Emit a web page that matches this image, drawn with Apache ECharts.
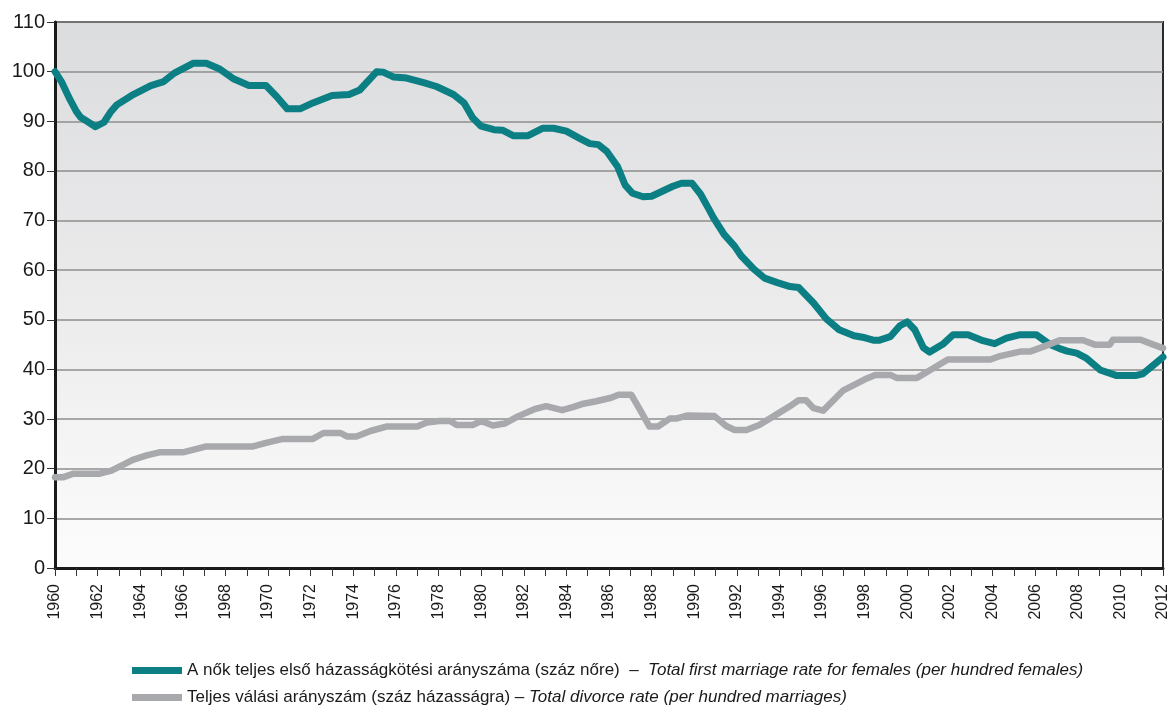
<!DOCTYPE html>
<html>
<head>
<meta charset="utf-8">
<script src="https://cdn.jsdelivr.net/npm/echarts@6/dist/echarts.min.js"></script>
<style>
    html, body { margin: 0; padding: 0; background: #ffffff; }
    #chart { width: 1175px; height: 706px; }
</style>
</head>
<body>
<div id="chart"></div>
<script>
// Total first marriage rate for females (per hundred females)
const marriageYears = [
    1960.0, 1960.3, 1960.7, 1961.0, 1961.2, 1961.5, 1961.9, 1962.3, 1962.6, 1962.9,
    1963.6, 1964.5, 1965.1, 1965.6, 1966.5, 1967.1, 1967.7, 1968.4, 1969.1, 1969.9,
    1970.4, 1970.9, 1971.5, 1972.1, 1973.0, 1973.8, 1974.3, 1975.1, 1975.4, 1975.9,
    1976.5, 1977.3, 1977.9, 1978.7, 1979.2, 1979.6, 1980.0, 1980.6, 1981.0, 1981.5,
    1982.2, 1982.9, 1983.4, 1984.0, 1984.6, 1985.1, 1985.5, 1985.9, 1986.4, 1986.75,
    1987.1, 1987.6, 1988.0, 1988.4, 1989.0, 1989.4, 1989.9, 1990.3, 1990.7, 1990.9,
    1991.4, 1991.9, 1992.2, 1992.8, 1993.3, 1993.9, 1994.5, 1994.9, 1995.6, 1996.2,
    1996.8, 1997.5, 1997.9, 1998.4, 1998.7, 1999.2, 1999.65, 2000.0, 2000.35, 2000.75,
    2001.05, 2001.7, 2002.15, 2002.85, 2003.55, 2004.1, 2004.65, 2005.3, 2006.05, 2006.7,
    2007.15, 2007.5, 2007.95, 2008.4, 2009.05, 2009.8, 2010.75, 2011.05, 2011.7, 2012.0
];
const marriageValues = [
    100.0, 98.0, 94.4, 92.0, 90.8, 90.0, 88.9, 89.8, 91.8, 93.3,
    95.2, 97.2, 98.0, 99.7, 101.7, 101.7, 100.6, 98.5, 97.2, 97.2,
    95.0, 92.5, 92.5, 93.7, 95.2, 95.4, 96.3, 100.0, 99.9, 98.9,
    98.7, 97.8, 97.0, 95.4, 93.7, 90.7, 89.0, 88.3, 88.2, 87.1,
    87.1, 88.6, 88.6, 88.0, 86.6, 85.5, 85.3, 83.9, 80.9, 77.2,
    75.5, 74.8, 74.9, 75.7, 76.9, 77.5, 77.5, 75.3, 72.2, 70.6,
    67.2, 64.8, 62.9, 60.2, 58.4, 57.5, 56.7, 56.5, 53.4, 50.2,
    48.0, 46.8, 46.5, 45.9, 45.9, 46.6, 48.8, 49.6, 48.0, 44.4,
    43.5, 45.2, 47.0, 47.0, 45.8, 45.2, 46.3, 47.0, 47.0, 45.0,
    44.2, 43.7, 43.3, 42.3, 39.9, 38.8, 38.8, 39.1, 41.4, 42.5
];

// Total divorce rate (per hundred marriages)
const divorceYears = [
    1960.0, 1960.4, 1960.85, 1962.1, 1962.65, 1963.65, 1964.3, 1964.9, 1966.0, 1966.65,
    1967.1, 1969.3, 1969.9, 1970.7, 1972.1, 1972.6, 1973.4, 1973.7, 1974.15, 1974.8,
    1975.55, 1977.0, 1977.45, 1978.05, 1978.55, 1978.85, 1979.6, 1980.0, 1980.55, 1981.1,
    1981.75, 1982.5, 1983.05, 1983.8, 1984.3, 1984.8, 1985.4, 1986.1, 1986.45, 1987.05,
    1987.45, 1987.9, 1988.3, 1988.85, 1989.15, 1989.65, 1990.95, 1991.5, 1991.9, 1992.45,
    1993.05, 1994.0, 1994.6, 1994.9, 1995.25, 1995.6, 1996.05, 1997.0, 1998.1, 1998.5,
    1999.2, 1999.5, 2000.45, 2001.2, 2001.9, 2003.9, 2004.35, 2005.3, 2005.75, 2006.4,
    2007.15, 2008.25, 2008.8, 2009.5, 2009.65, 2010.95, 2011.55, 2012.0
];
const divorceValues = [
    18.3, 18.3, 19.0, 19.0, 19.6, 21.8, 22.7, 23.3, 23.3, 24.0,
    24.5, 24.5, 25.2, 26.0, 26.0, 27.2, 27.2, 26.5, 26.5, 27.6,
    28.5, 28.5, 29.3, 29.6, 29.6, 28.8, 28.8, 29.6, 28.7, 29.1,
    30.6, 32.0, 32.6, 31.8, 32.4, 33.1, 33.6, 34.3, 34.9, 34.9,
    31.9, 28.5, 28.5, 30.1, 30.1, 30.7, 30.6, 28.6, 27.8, 27.8,
    28.8, 31.3, 32.9, 33.8, 33.8, 32.2, 31.7, 35.8, 38.2, 38.9,
    38.9, 38.3, 38.3, 40.2, 42.0, 42.0, 42.7, 43.6, 43.6, 44.6,
    45.9, 45.9, 45.0, 45.0, 46.0, 46.0, 45.0, 44.3
];

const seriesNames = [
    'A nők teljes első házasságkötési arányszáma (száz nőre)',
    'Teljes válási arányszám (száz házasságra)'
];
const seriesNamesEn = [
    'Total first marriage rate for females (per hundred females)',
    'Total divorce rate (per hundred marriages)'
];
const seriesSeparators = ['  –  ', ' – '];

const TEAL = '#0b7f83';
const GRAY = '#a8a9ac';
const FONT = '"Liberation Sans", Arial, sans-serif';

function pairs(xs, ys) {
    return xs.map(function (x, i) { return [x, ys[i]]; });
}

// one legend block per line, so the two entries stack like the original
function legendLine(i, top) {
    return {
        orient: 'horizontal',
        left: 127,
        top: top,
        itemWidth: 50,
        itemHeight: 7,
        itemGap: 0,
        icon: 'rect',
        data: [seriesNames[i]],
        formatter: function (name) {
            return '{hu|' + name + seriesSeparators[i] + '}{en|' + seriesNamesEn[i] + '}';
        },
        textStyle: {
            rich: {
                hu: {fontFamily: FONT, fontSize: 17, color: '#1a1a1a', lineHeight: 19},
                en: {fontFamily: FONT, fontSize: 17, fontStyle: 'italic', color: '#1a1a1a', lineHeight: 19}
            }
        }
    };
}

let chart = echarts.init(document.getElementById('chart'));

chart.setOption({
    animation: false,
    color: [TEAL, GRAY],
    grid: {
        left: 55,
        right: 12,
        top: 22,
        bottom: 138,
        show: true,
        borderColor: '#2a2a2a',
        borderWidth: 2,
        backgroundColor: new echarts.graphic.LinearGradient(0, 0, 0, 1, [
            {offset: 0, color: '#dbdcde'},
            {offset: 0.5, color: '#ebebec'},
            {offset: 1, color: '#fcfcfc'}
        ])
    },
    legend: [legendLine(0, 657), legendLine(1, 684)],
    xAxis: {
        type: 'value',
        min: 1960,
        max: 2012,
        interval: 1,
        axisLine: {lineStyle: {color: '#1a1a1a', width: 3}},
        axisTick: {show: true, length: 8, lineStyle: {color: '#333', width: 1}},
        splitLine: {show: false},
        axisLabel: {
            rotate: 90,
            margin: 16,
            fontFamily: FONT,
            fontSize: 16,
            color: '#1a1a1a',
            showMinLabel: true,
            showMaxLabel: true,
            formatter: function (v) { return v % 2 === 0 ? String(v) : ''; }
        }
    },
    yAxis: {
        type: 'value',
        min: 0,
        max: 110,
        interval: 10,
        axisLine: {show: true, lineStyle: {color: '#1a1a1a', width: 3}},
        axisTick: {show: true, length: 8, lineStyle: {color: '#333', width: 1}},
        splitLine: {lineStyle: {color: '#8e8e8e', width: 1.5}},
        axisLabel: {
            margin: 10,
            fontFamily: FONT,
            fontSize: 20,
            color: '#1a1a1a'
        }
    },
    series: [
        {
            name: seriesNames[0],
            type: 'line',
            showSymbol: false,
            data: pairs(marriageYears, marriageValues),
            lineStyle: {width: 7, cap: 'round', join: 'round'}
        },
        {
            name: seriesNames[1],
            type: 'line',
            showSymbol: false,
            data: pairs(divorceYears, divorceValues),
            lineStyle: {width: 6.5, cap: 'round', join: 'round'}
        }
    ]
});

window.addEventListener('resize', function () {
    chart?.resize();
});
</script>
</body>
</html>
